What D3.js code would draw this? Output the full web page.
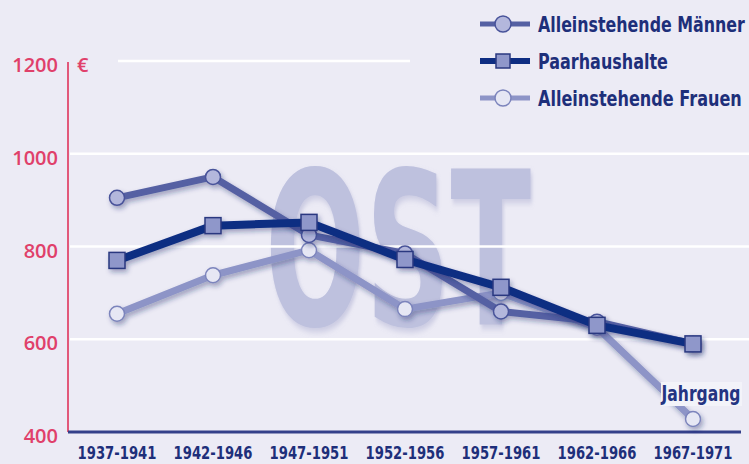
<!DOCTYPE html>
<html>
<head>
<meta charset="utf-8">
<script src="https://cdn.jsdelivr.net/npm/d3@7"></script>
<style>
  html, body { margin: 0; padding: 0; background: #ECEBF5; }
  svg { display: block; }
  .cond { font-family: "Liberation Sans Narrow", "DejaVu Sans", sans-serif; font-weight: bold; }
</style>
</head>
<body>
<svg id="chart" width="749" height="464"></svg>
<script>
// categories (birth cohorts) and values in euro
var jahrgaenge = ["1937-1941", "1942-1946", "1947-1951", "1952-1956", "1957-1961", "1962-1966", "1967-1971"];
var maenner = [905, 950, 825, 785, 660, 638, 590];
var paare   = [770, 845, 852, 772, 712, 630, 590];
var frauen  = [655, 738, 792, 665, 700, 625, 428];
var yTicks  = [400, 600, 800, 1000, 1200];

var W = 749, H = 464;
var axisX = 68, axisY = 432;

var svg = d3.select("#chart");

// squeeze a text horizontally to a given width (the original uses a condensed face)
function squeeze(sel, width) {
    sel.each(function() {
        var t = d3.select(this);
        var w = this.getComputedTextLength();
        var k = w > 0 ? width / w : 1;
        var tx = +t.attr("x"), ty = +t.attr("y");
        t.attr("x", 0).attr("y", 0)
            .attr("transform", "translate(" + tx + "," + ty + ") scale(" + k + ",1)");
    });
}

svg.append("rect").attr("width", W).attr("height", H).attr("fill", "#ECEBF5");

// shadows
var defs = svg.append("defs");
var f = defs.append("filter").attr("id", "shadow")
    .attr("x", "-10%").attr("y", "-20%").attr("width", "130%").attr("height", "150%");
f.append("feDropShadow").attr("dx", 2).attr("dy", 3).attr("stdDeviation", 2.4)
    .attr("flood-color", "#1a2266").attr("flood-opacity", 0.38);
var f2 = defs.append("filter").attr("id", "wshadow")
    .attr("x", "-10%").attr("y", "-10%").attr("width", "130%").attr("height", "130%");
f2.append("feDropShadow").attr("dx", 3).attr("dy", 4).attr("stdDeviation", 3)
    .attr("flood-color", "#8a8fbf").attr("flood-opacity", 0.35);

var x = d3.scalePoint().domain(jahrgaenge).range([117, 693]);
var y = d3.scaleLinear().domain([400, 1200]).range([axisY, 61]);

// watermark
svg.append("text")
    .attr("class", "cond")
    .attr("x", 265).attr("y", 325)
    .attr("font-size", 214)
    .attr("fill", "#BEC1DE")
    .attr("filter", "url(#wshadow)")
    .text("OST")
    .call(squeeze, 266);

// gridlines
svg.append("g").selectAll("line")
    .data(yTicks.filter(function(d) { return d > 400; }))
    .enter().append("line")
    .attr("x1", function(d) { return d === 1200 ? 118 : axisX + 2; })
    .attr("x2", function(d) { return d === 1200 ? 410 : W; })
    .attr("y1", function(d) { return y(d); })
    .attr("y2", function(d) { return y(d); })
    .style("stroke", "#ffffff")
    .style("stroke-width", 2.5);

// y axis
svg.append("line")
    .attr("x1", axisX).attr("x2", axisX)
    .attr("y1", y(1200) + 1).attr("y2", axisY)
    .style("stroke", "#E2587A").style("stroke-width", 2);

svg.append("g").selectAll("text")
    .data(yTicks).enter().append("text")
    .attr("x", 58)
    .attr("y", function(d) { return y(d) + 11; })
    .attr("text-anchor", "end")
    .attr("font-family", "'Open Sans', sans-serif")
    .attr("font-weight", 600)
    .attr("font-size", 20)
    .attr("fill", "#E0406A")
    .text(function(d) { return d; });

svg.append("text")
    .attr("x", 77).attr("y", y(1200) + 11)
    .attr("font-family", "'Open Sans', sans-serif")
    .attr("font-weight", 600)
    .attr("font-size", 20)
    .attr("fill", "#E0406A")
    .text("€");

// x axis
svg.append("line")
    .attr("x1", axisX).attr("x2", 741)
    .attr("y1", axisY).attr("y2", axisY)
    .style("stroke", "#34408A").style("stroke-width", 3);

svg.append("g").selectAll("text")
    .data(jahrgaenge).enter().append("text")
    .attr("class", "cond")
    .attr("x", function(d) { return x(d); })
    .attr("y", 459)
    .attr("text-anchor", "middle")
    .attr("font-size", 18)
    .attr("fill", "#1E2F7A")
    .text(function(d) { return d; })
    .call(squeeze, 79);

// series, bottom to top
var series = [
    { name: "Alleinstehende Frauen", values: frauen, line: "#8D94C7", width: 7, fill: "#E6E7F4", stroke: "#7C84BC", marker: "o", legend: 2, textW: 204 },
    { name: "Alleinstehende Männer", values: maenner, line: "#5560A3", width: 7, fill: "#B3B7DC", stroke: "#48539A", marker: "o", legend: 0, textW: 207 },
    { name: "Paarhaushalte", values: paare, line: "#0E2D82", width: 8, fill: "#8F97CA", stroke: "#2A3880", marker: "s", legend: 1, textW: 130 }
];

var line = d3.line()
    .x(function(d, i) { return x(jahrgaenge[i]); })
    .y(function(d) { return y(d); });

series.forEach(function(s, k) {
    var g = svg.append("g").attr("filter", "url(#shadow)");
    g.append("path")
        .attr("d", line(s.values))
        .style("fill", "none")
        .style("stroke", s.line)
        .style("stroke-width", s.width)
        .style("stroke-linejoin", "round");
    if (s.marker === "o") {
        g.selectAll("circle").data(s.values).enter().append("circle")
            .attr("cx", function(d, i) { return x(jahrgaenge[i]); })
            .attr("cy", function(d) { return y(d); })
            .attr("r", 7.5)
            .style("fill", s.fill).style("stroke", s.stroke).style("stroke-width", 1.5);
    } else {
        g.selectAll("rect").data(s.values).enter().append("rect")
            .attr("x", function(d, i) { return x(jahrgaenge[i]) - 8; })
            .attr("y", function(d) { return y(d) - 8; })
            .attr("width", 16).attr("height", 16)
            .style("fill", s.fill).style("stroke", s.stroke).style("stroke-width", 1.5);
    }
    if (k === 0) {
        // "Jahrgang" label sits over the Frauen line
        var lab = svg.append("g");
        lab.append("rect")
            .attr("x", 661).attr("y", 382).attr("width", 81).attr("height", 24)
            .attr("fill", "#F3F3F9");
        lab.append("text")
            .attr("class", "cond")
            .attr("x", 701).attr("y", 401)
            .attr("text-anchor", "middle")
            .attr("font-size", 21)
            .attr("fill", "#243482")
            .text("Jahrgang")
            .call(squeeze, 79);
    }
});

// legend
var legend = svg.append("g").selectAll("g")
    .data(series).enter().append("g")
    .attr("transform", function(s) { return "translate(480," + (24 + s.legend * 37) + ")"; });

legend.append("line")
    .attr("x1", 0).attr("x2", 50).attr("y1", 0).attr("y2", 0)
    .style("stroke", function(s) { return s.line; })
    .style("stroke-width", function(s) { return s.marker === "s" ? 6 : 5; });

legend.filter(function(s) { return s.marker === "o"; }).append("circle")
    .attr("cx", 23).attr("cy", 0).attr("r", 8)
    .style("fill", function(s) { return s.fill; })
    .style("stroke", function(s) { return s.stroke; })
    .style("stroke-width", 1.5);

legend.filter(function(s) { return s.marker === "s"; }).append("rect")
    .attr("x", 16).attr("y", -7).attr("width", 14).attr("height", 14)
    .style("fill", function(s) { return s.fill; })
    .style("stroke", function(s) { return s.stroke; })
    .style("stroke-width", 1.5);

legend.append("text")
    .attr("class", "cond")
    .attr("x", 58).attr("y", 8)
    .attr("font-size", 21)
    .attr("fill", "#1E2F7A")
    .text(function(s) { return s.name; })
    .each(function(s) { d3.select(this).call(squeeze, s.textW); });
</script>
</body>
</html>
